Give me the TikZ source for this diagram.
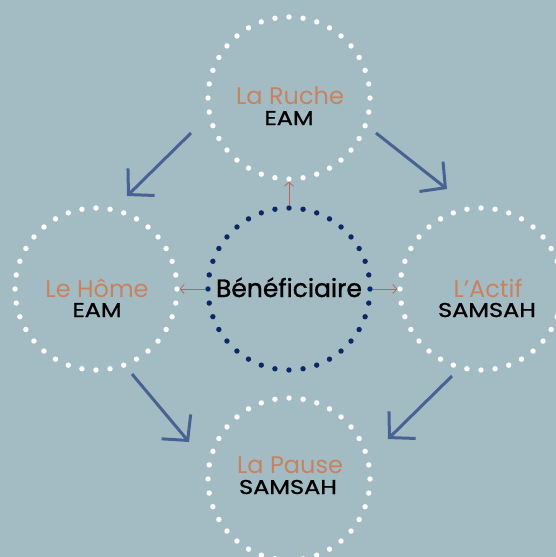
\documentclass[tikz,border=0pt]{standalone}
\usepackage{fontspec}
\setmainfont{Poppins}[Ligatures=ResetAll]
\newfontfamily\kindfont{Poppins}[Ligatures=ResetAll, FakeStretch=1.2, FakeBold=1.2]
\newfontfamily\centerfont{Poppins}[Ligatures=ResetAll, FakeBold=1.2]
\usepackage{xcolor}
\usepackage{tikz}
\usetikzlibrary{arrows.meta}
\definecolor{slate}{HTML}{A3BCC4}
\definecolor{peach}{HTML}{C8825F}
\definecolor{navy}{HTML}{0C2864}
\definecolor{steel}{HTML}{486392}
\definecolor{rust}{HTML}{BE645F}
\tikzset{
ring/.style = {circle, draw=#1, minimum size=162pt, inner sep=0pt,
               outer sep=2.7pt, line width=5.4pt, line cap=round,
               dash pattern=on 0pt off 14.137pt},
ring/.default = white,
orgname/.style = {anchor=base, inner sep=0pt, text=peach,
                  font=\fontsize{24}{24}\selectfont},
orgkind/.style = {anchor=base, inner sep=0pt, text=black,
                  font=\kindfont\fontsize{20}{20}\selectfont},
flow/.style = {draw=steel, line width=3pt,
               -{Straight Barb[length=18pt,width=38pt]}},
link/.style = {draw=rust, line width=0.8pt,
               -{Straight Barb[length=4pt,width=9pt]}}
}

\begin{document}
\begin{tikzpicture}[x=1pt,y=-1pt]
\fill[slate] (0,0) rectangle (556,557);
\useasboundingbox (0,0) rectangle (556,557);

% circles
\node[ring=navy] (benef) at (289,289) {};
\node[ring] (ruche) at (289,98) {};
\node[ring] (home)  at (96,289) {};
\node[ring] (actif) at (481,289) {};
\node[ring] (pause) at (289,479) {};

% texts
\node[orgname, text=black, font=\centerfont\fontsize{25}{25}\selectfont] (benefname) at (289,297) {Bénéficiaire};
\node[orgname] (ruchename) at (290,104) {La Ruche};
\node[orgkind] (ruchekind) at (289,125) {EAM};
\node[orgname] (homename)  at (97,297) {Le Hôme};
\node[orgkind] (homekind)  at (97,317) {EAM};
\node[orgname] (actifname) at (488,297) {L'Actif};
\node[orgkind] (actifkind) at (487,317) {SAMSAH};
\node[orgname] (pausename) at (290,473) {La Pause};
\node[orgkind] (pausekind) at (288,494) {SAMSAH};

% ends of the big arrows
\coordinate (rh1) at (191,133);
\coordinate (rh2) at (127,196);
\coordinate (ra1) at (376,133);
\coordinate (ra2) at (447,189);
\coordinate (hp1) at (132,374);
\coordinate (hp2) at (189,442);
\coordinate (ap1) at (452,376);
\coordinate (ap2) at (388,439);

\draw [flow] (rh1) -- (rh2);
\draw [flow] (ra1) -- (ra2);
\draw [flow] (hp1) -- (hp2);
\draw [flow] (ap1) -- (ap2);

\draw [link] (benef.north) -- (ruche.south);
\draw [link] (benef.west) -- (home.east);
\draw [link] (benef.east) -- (actif.west);
\end{tikzpicture}
\end{document}
